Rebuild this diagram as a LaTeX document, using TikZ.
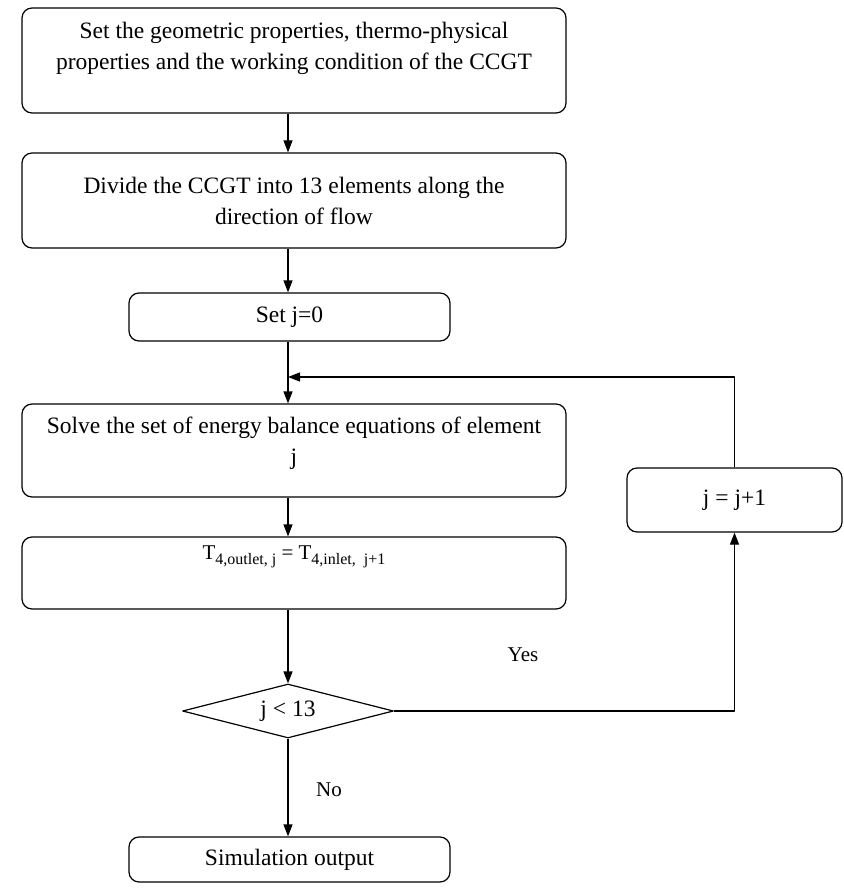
\documentclass[tikz,border=0pt]{standalone}
\usepackage{fontspec}
\setmainfont{Liberation Serif}
\usetikzlibrary{shapes.geometric,arrows.meta}
\newcommand{\lowsub}[1]{\raisebox{-5pt}{\fontsize{16}{16}\selectfont #1}}
\begin{document}
\begin{tikzpicture}[x=1pt, y=-1pt, line width=1.2pt, line join=round, >={Triangle[length=12pt,width=9pt]},
    font=\fontsize{23.5}{31}\selectfont,
    box/.style={draw, rounded corners=10pt, align=center, inner sep=0pt},
    choice/.style={draw, diamond, aspect=3.9, inner sep=0pt, minimum width=211pt, minimum height=54pt}]
    \useasboundingbox (0,0) rectangle (843,893);
    % main column
    \node[box, minimum width=544pt, minimum height=105pt, text depth=30pt] (geom) at (294,60.5)
        {Set the geometric properties, thermo-physical\\properties and the working condition of the CCGT};
    \node[box, minimum width=544pt, minimum height=95pt] (divide) at (294,200.5)
        {Divide the CCGT into 13 elements along the\\direction of flow};
    \node[box, minimum width=321pt, minimum height=48pt] (setj) at (289.5,317) {Set j=0};
    \node[box, minimum width=544pt, minimum height=93pt, text depth=20pt] (solve) at (294,450.5)
        {Solve the set of energy balance equations of element\\j};
    \node[box, minimum width=544pt, minimum height=72pt, text depth=40pt, font=\fontsize{21}{25}\selectfont] (equal) at (294,573)
        {T\lowsub{4,outlet, j} = T\lowsub{4,inlet,\ \ j+1}};
    \node[choice] (check) at (288,711) {j < 13};
    \node[box, minimum width=321pt, minimum height=45pt] (simout) at (289.5,859.5) {Simulation output};
    \node[box, minimum width=215pt, minimum height=64pt] (incr) at (734.5,500) {j = j+1};
    \node[font=\fontsize{21}{25}\selectfont] (yes) at (523,655) {Yes};
    \node[font=\fontsize{21}{25}\selectfont] (no) at (329,790) {No};
    \coordinate (back) at (288,377);
    % connectors
    \foreach \a/\b in {geom/divide, divide/setj, setj/solve, solve/equal, equal/check, check/simout}
        \draw[->] (\a.south -| check) -- (\b.north -| check);
    \draw[->] (check.east) -| (incr.south);
    \draw[->] (incr.north) |- (back);
\end{tikzpicture}
\end{document}
